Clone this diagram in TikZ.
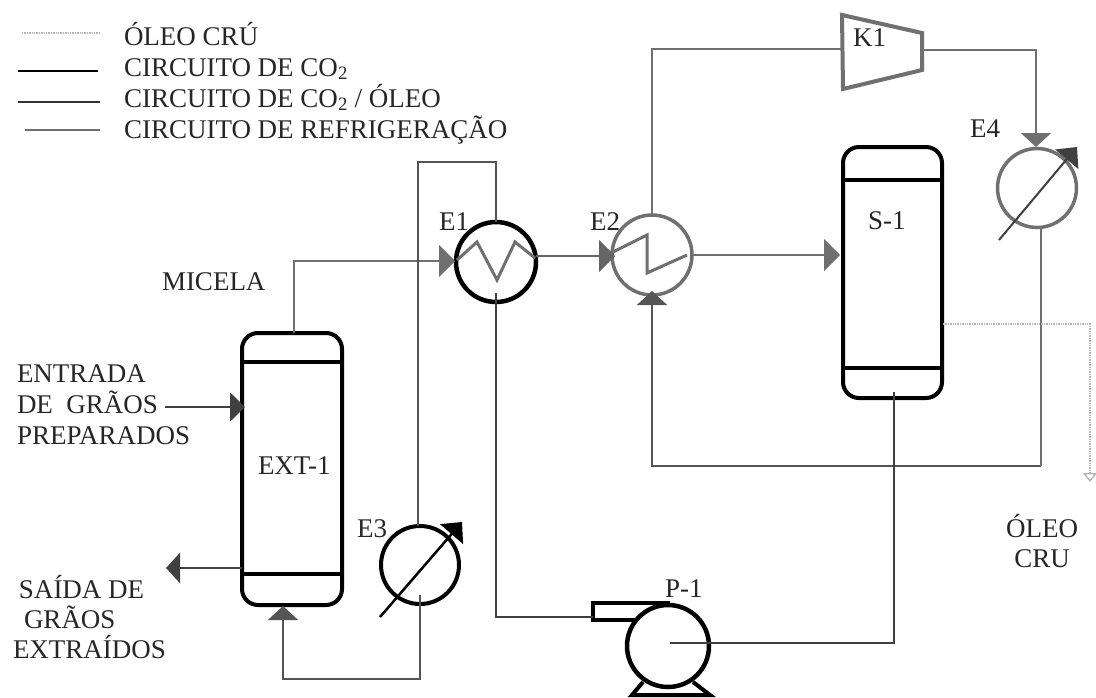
\documentclass[tikz,border=0pt]{standalone}
\usepackage{fontspec}
\setmainfont{Liberation Serif}
\usetikzlibrary{arrows.meta}
\definecolor{grayline}{HTML}{707070}
\definecolor{darkline}{HTML}{404040}
\definecolor{refline}{HTML}{555555}
\definecolor{oilline}{HTML}{B4B4B4}
\tikzset{
  x=1pt,y=-1pt,
  lbl/.style={inner sep=0pt,outer sep=0pt,anchor=base west,font=\fontsize{27}{30}\selectfont,text=black!85},
  ctrlbl/.style={inner sep=0pt,outer sep=0pt,anchor=base,font=\fontsize{27}{30}\selectfont,text=black!85},
  vessel/.style={draw=black,line width=4pt,rectangle,rounded corners=16pt,outer sep=0pt,inner sep=0pt},
  sepline/.style={draw=black,line width=3.5pt},
  hxblack/.style={draw=black,line width=4.5pt,circle,minimum size=80pt,outer sep=0pt,inner sep=0pt},
  hxgray/.style={draw=grayline,line width=3.5pt,circle,minimum size=80pt,outer sep=0pt,inner sep=0pt},
  zigline/.style={draw=grayline,line width=3pt,line join=miter},
  co2line/.style={draw=grayline,line width=2pt},
  mixline/.style={draw=darkline,line width=2pt},
  refrline/.style={draw=refline,line width=1.6pt},
  oilstyle/.style={draw=oilline,line width=1.4pt,densely dotted},
  headh/.style={-{Triangle[length=16pt,width=32pt]}},
  headv/.style={-{Triangle[length=14pt,width=30pt]}},
  headadj/.style={-{Triangle[length=16pt,width=30pt]}},
}
\begin{document}
\begin{tikzpicture}
\useasboundingbox (0,0) rectangle (1096,697);

% legend
\coordinate (l1a) at (22,33);  \coordinate (l1b) at (100,33);
\coordinate (l2a) at (18,71);  \coordinate (l2b) at (98,71);
\coordinate (l3a) at (18,102); \coordinate (l3b) at (100,102);
\coordinate (l4a) at (25,130); \coordinate (l4b) at (100,130);
\draw[oilstyle] (l1a) -- (l1b);
\draw[draw=black,line width=1.6pt] (l2a) -- (l2b);
\draw[draw=black!80,line width=2.4pt] (l3a) -- (l3b);
\draw[draw=grayline,line width=1.8pt] (l4a) -- (l4b);
\node[lbl] (t1) at (124,45) {ÓLEO CRÚ};
\node[lbl] (t2) at (124,76) {CIRCUITO DE CO\textsubscript{2}};
\node[lbl] (t3) at (124,107) {CIRCUITO DE CO\textsubscript{2} / ÓLEO};
\node[lbl] (t4) at (124,138) {CIRCUITO DE REFRIGERAÇÃO};

% vessels
\node[vessel,minimum width=100pt,minimum height=272pt] (ext) at (292,469) {};
\node[vessel,minimum width=99pt,minimum height=251pt] (s1) at (892.5,272.5) {};
\draw[sepline] (ext.west |- 0,362) -- (ext.east |- 0,362);
\draw[sepline] (ext.west |- 0,574) -- (ext.east |- 0,574);
\draw[sepline] (s1.west |- 0,180) -- (s1.east |- 0,180);
\draw[sepline] (s1.west |- 0,368) -- (s1.east |- 0,368);
\node[lbl] (lext) at (258,474) {EXT-1};
\node[lbl] (ls1) at (868,229) {S-1};

% exchangers
\node[hxblack] (e1) at (496,262) {};
\node[hxgray] (e2) at (652,255) {};
\node[hxblack,line width=4pt,minimum size=78pt] (e3) at (420,565) {};
\node[hxgray,minimum size=79pt] (e4) at (1037,188) {};
\node[lbl] (le1) at (439,230) {E1};
\node[lbl] (le2) at (590,230) {E2};
\node[lbl] (le3) at (357,537) {E3};
\node[lbl] (le4) at (970,137) {E4};

\draw[zigline] (457,260) -- (477,242) -- (497,280) -- (515,242) -- (535,258);
\draw[zigline] (613,252) -- (647,235) -- (647,273) -- (687,255);

% adjustable arrows through E3, E4
\coordinate (a3a) at (380,617); \coordinate (a3b) at (462,522);
\coordinate (a4a) at (999,240); \coordinate (a4b) at (1077,147);
\draw[draw=black,line width=2.5pt,headadj] (a3a) -- (a3b);
\draw[draw=darkline,line width=2pt,headadj] (a4a) -- (a4b);

% compressor
\coordinate (k1a) at (842,15); \coordinate (k1b) at (922,33);
\coordinate (k1c) at (922,70); \coordinate (k1d) at (843,89);
\draw[draw=grayline,line width=4pt,line join=miter] (k1a) -- (k1b) -- (k1c) -- (k1d) -- cycle;
\node[lbl] (lk1) at (853,46) {K1};
\coordinate (k1in) at (842,49);
\coordinate (k1out) at (922,50);

% pump
\node[draw=black,line width=4.5pt,circle,minimum size=82pt,outer sep=0pt,inner sep=0pt] (p1) at (668,646) {};
\node[lbl] (lp1) at (665,597) {P-1};
\coordinate (n1) at (670,603); \coordinate (n2) at (593,603);
\coordinate (n3) at (593,620); \coordinate (n4) at (635,620);
\draw[draw=black,line width=4pt,line join=miter] (n1) -- (n2) -- (n3) -- (n4);
\coordinate (f1) at (643,682); \coordinate (f2) at (632,695);
\coordinate (f3) at (710,695); \coordinate (f4) at (693,682);
\draw[draw=black,line width=4pt] (f1) -- (f2) -- (f3) -- (f4);

% process connectors
\coordinate (micTop) at (294,333);
\coordinate (e1in) at (455,261);
\draw[co2line,headh] (micTop) |- (e1in);
\coordinate (e1out) at (536,256);
\coordinate (e2in) at (615,256);
\draw[mixline,headh,line width=1.8pt,draw=grayline!90!black] (e1out) -- (e2in);
\coordinate (e2out) at (692,255);
\coordinate (s1in) at (840,255);
\draw[co2line,headh] (e2out) -- (s1in);
\draw[co2line] (e2.north) |- (k1in);
\coordinate (e4top) at (1036,147);
\draw[co2line,headv] (k1out) -| (e4top);
\coordinate (e4bot) at (1041,228);
\coordinate (e2bot) at (652,291);
\coordinate (loop) at (1041,466);
\draw[co2line,headv,draw=refline] (loop) -| (e2bot);
\draw[co2line] (e4bot) -- (loop);

\coordinate (e1bot) at (496,293);
\coordinate (noz) at (593,617);
\draw[mixline] (e1bot) |- (noz);
\coordinate (pcen) at (670,643);
\coordinate (s1bot) at (894,392);
\draw[mixline] (pcen) -| (s1bot);

% refrigeration
\coordinate (rt) at (418,162);
\draw[refrline] (e1.north) |- (rt) -- (e3.north -| rt);
\coordinate (e3bot) at (420,595);
\coordinate (extb) at (283,606);
\coordinate (rb) at (283,679);
\draw[refrline,headv] (e3bot) |- (rb) -- (extb);

% feed streams
\coordinate (in0) at (165,407);
\coordinate (in1) at (245,407);
\draw[draw=darkline,line width=2pt,-{Triangle[length=15pt,width=29pt]}] (in0) -- (in1);
\coordinate (out0) at (242,568);
\coordinate (out1) at (166,568);
\draw[draw=darkline,line width=2pt,-{Triangle[length=14pt,width=30pt]}] (out0) -- (out1);

% oil outlet
\coordinate (oil0) at (943,324);
\coordinate (oil1) at (1090,324);
\coordinate (oil2) at (1090,482);
\draw[oilstyle,-{Triangle[length=9pt,width=14pt,open]}] (oil0) -- (oil1) -- (oil2);

% labels
\node[lbl] (micela) at (162,290) {MICELA};
\node[lbl] (g1) at (17,382) {ENTRADA};
\node[lbl] (g2) at (17,413) {DE\ \ GRÃOS};
\node[lbl] (g3) at (17,444) {PREPARADOS};
\node[lbl] (s1t) at (19,598) {SAÍDA DE};
\node[lbl] (s2t) at (24,628) {GRÃOS};
\node[lbl] (s3t) at (13,658) {EXTRAÍDOS};
\node[ctrlbl] (o1) at (1042,537) {ÓLEO};
\node[ctrlbl] (o2) at (1042,567) {CRU};
\end{tikzpicture}
\end{document}
